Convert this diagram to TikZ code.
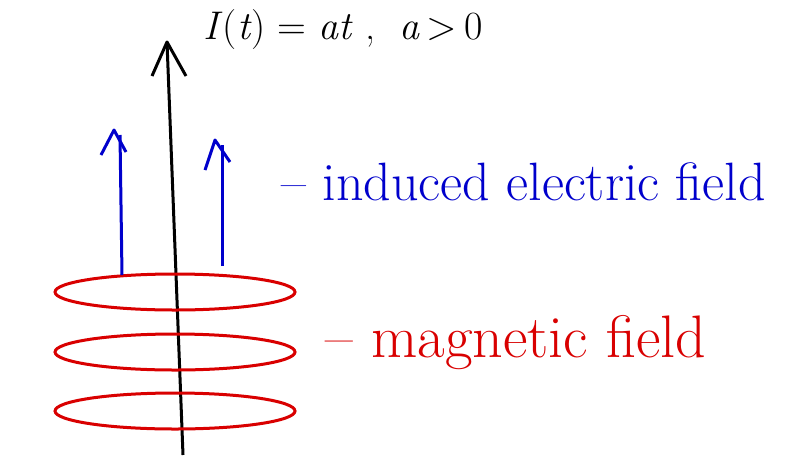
\documentclass[tikz,border=0pt]{standalone}
\begin{document}
\begin{tikzpicture}[x=1pt,y=-1pt,
  loop/.style={draw=red!85!black,line width=3pt},
  field/.style={blue!80!black,line width=3pt},
  lbl/.style={anchor=west,font=\fontsize{54}{54}\selectfont}]
\useasboundingbox[fill=white] (0,0) rectangle (800,461);
\coordinate (wb) at (183,455);
\coordinate (wt) at (167,42);
\draw[line width=3pt] (wb) -- (wt);
\draw[line width=3pt,line join=round] (152,76) -- (wt) -- (186,76);
\node[anchor=west,font=\fontsize{40}{40}\selectfont] (cur) at (200,30) {\textit{I}(\textit{t}) = \textit{at} ,\ \ \textit{a}\,>\,0};
\foreach \n/\x/\y in {l1/175/292,l2/175/352,l3/175/411}
  \draw[loop] (\x,\y) ellipse [x radius=120,y radius=18];
\coordinate (a1b) at (122,275); \coordinate (a1t) at (114,130);
\coordinate (a2b) at (222,266); \coordinate (a2t) at (215,140);
\draw[field] (a1b) -- (120,135);
\draw[field,line join=round] (101,155) -- (a1t) -- (126,152);
\draw[field] (a2b) -- (222,145);
\draw[field,line join=round] (205,170) -- (a2t) -- (230,162);
\node[lbl,text=blue!80!black] (ef) at (278,182) {-- induced electric field};
\node[lbl,text=red!85!black,font=\fontsize{60}{60}\selectfont] (mf) at (322,343) {-- magnetic field};
\end{tikzpicture}
\end{document}
